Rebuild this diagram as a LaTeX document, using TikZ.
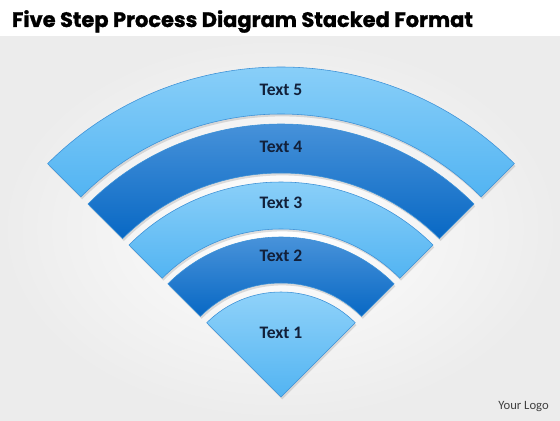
\documentclass[tikz,border=0pt]{standalone}
\usepackage{fontspec}
\setmainfont{Carlito}
\newfontfamily\titlefont[BoldFeatures={FakeBold=1.2}]{Poppins}
\usetikzlibrary{shadows}

\definecolor{lighttop}{RGB}{150,213,250}
\definecolor{lightbot}{RGB}{82,180,242}
\definecolor{darktop}{RGB}{85,155,222}
\definecolor{darkbot}{RGB}{8,104,196}
\definecolor{bandedge}{RGB}{60,145,215}
\definecolor{labeltext}{RGB}{18,32,58}
\definecolor{bggray}{RGB}{236,236,236}

\tikzset{
  lightband/.style={top color=lighttop, bottom color=lightbot, draw=bandedge, line width=0.4pt,
    drop shadow={opacity=0.25, shadow xshift=0.03cm, shadow yshift=-0.06cm}},
  darkband/.style={top color=darktop, bottom color=darkbot, draw=bandedge, line width=0.4pt,
    drop shadow={opacity=0.25, shadow xshift=0.03cm, shadow yshift=-0.06cm}},
  steptext/.style={font=\bfseries\fontsize{12.5}{14}\selectfont, text=labeltext},
}

\begin{document}
\begin{tikzpicture}
       \useasboundingbox (0,0) rectangle (14,10.5);
       \fill[white] (0,0) rectangle (14,10.5);
       \shade[inner color=white, outer color=bggray] (0,0) rectangle (14,9.575);

       \node(title)[anchor=base west, font=\titlefont\bfseries\fontsize{14.9}{17}\selectfont] at (0.175,9.825) {Five Step Process Diagram Stacked Format};

       \coordinate(O) at (7.025,0.575);

       % outer band
       \path[lightband] ([shift={(45:8.25)}]O) arc[start angle=45, end angle=135, radius=8.25]
         -- ([shift={(135:7.075)}]O) arc[start angle=135, end angle=45, radius=7.075] -- cycle;
       \node(T5)[steptext] at (7.025,8.25) {Text 5};

       \path[darkband] ([shift={(45:6.825)}]O) arc[start angle=45, end angle=135, radius=6.825]
         -- ([shift={(135:5.6)}]O) arc[start angle=135, end angle=45, radius=5.6] -- cycle;
       \node(T4)[steptext] at (7.025,6.825) {Text 4};

       \path[lightband] ([shift={(45:5.375)}]O) arc[start angle=45, end angle=135, radius=5.375]
         -- ([shift={(135:4.2)}]O) arc[start angle=135, end angle=45, radius=4.2] -- cycle;
       \node(T3)[steptext] at (7.025,5.425) {Text 3};

       \path[darkband] ([shift={(45:4.0)}]O) arc[start angle=45, end angle=135, radius=4.0]
         -- ([shift={(135:2.85)}]O) arc[start angle=135, end angle=45, radius=2.85] -- cycle;
       \node(T2)[steptext] at (7.025,4.1) {Text 2};

       % inner wedge
       \path[lightband] (O) -- ([shift={(45:2.625)}]O) arc[start angle=45, end angle=135, radius=2.625] -- cycle;
       \node(T1)[steptext] at (7.025,2.175) {Text 1};

       \node(logo)[font=\fontsize{9}{10}\selectfont, text=black!75] at (13.09,0.325) {Your Logo};
     \end{tikzpicture}
\end{document}
